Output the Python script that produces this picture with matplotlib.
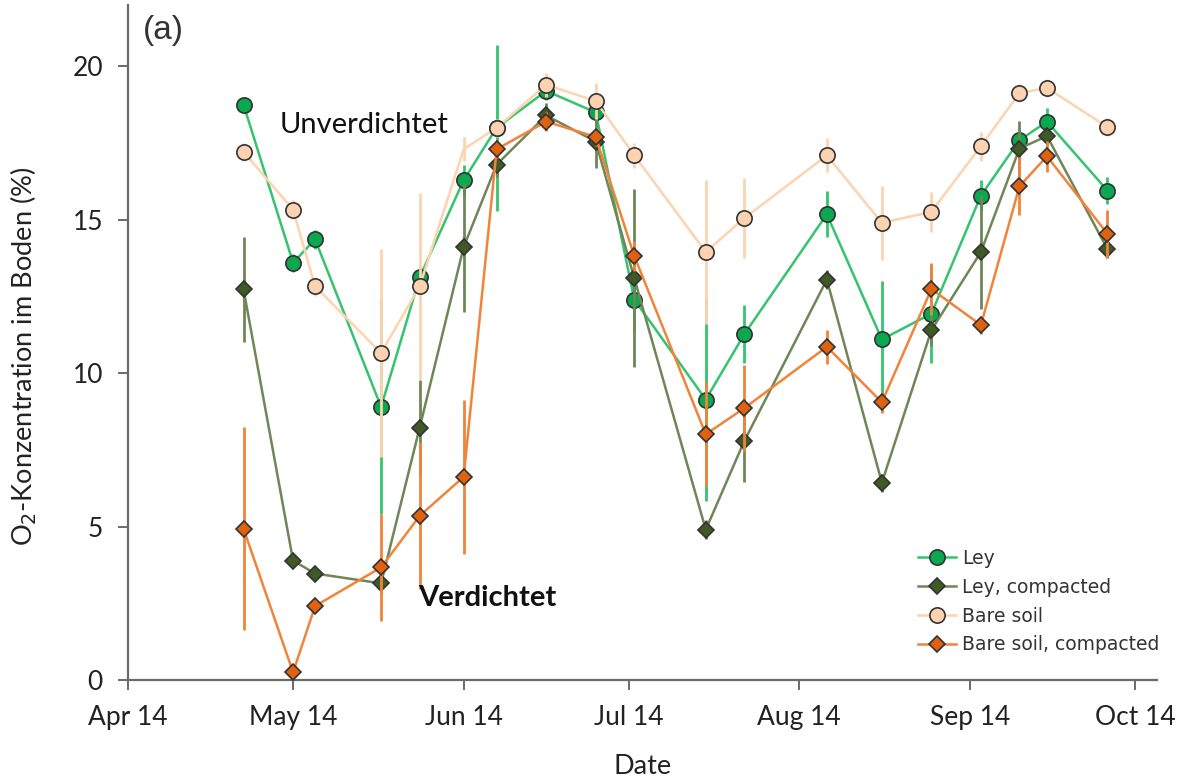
import matplotlib
matplotlib.use("Agg")
import matplotlib.pyplot as plt
import matplotlib.dates as mdates
import numpy as np

dates = np.array(["2014-04-22", "2014-05-01", "2014-05-05", "2014-05-17", "2014-05-24",
                  "2014-06-01", "2014-06-07", "2014-06-16", "2014-06-25", "2014-07-02",
                  "2014-07-15", "2014-07-22", "2014-08-06", "2014-08-16", "2014-08-25",
                  "2014-09-03", "2014-09-10", "2014-09-15", "2014-09-26"], dtype="datetime64[D]")

ley = [18.75, 13.6, 14.36, 8.9, 13.12, 16.29, 18.0, 19.2, 18.5, 12.4,
       9.14, 11.27, 15.18, 11.1, 11.94, 15.79, 17.59, 18.2, 15.95]
ley_err = [0.2, 0.3, 0.3, 3.5, 0.4, 0.5, 2.7, 0.3, 0.4, 1.0,
           3.3, 0.95, 0.75, 1.9, 1.6, 0.5, 0.4, 0.45, 0.45]

ley_comp = [12.73, 3.89, 3.47, 3.15, 8.22, 14.11, 16.8, 18.4, 17.55, 13.1,
            4.9, 7.79, 13.05, 6.43, 11.4, 13.95, 17.32, 17.73, 14.04]
ley_comp_err = [1.7, 0.2, 0.2, 0.3, 1.55, 2.1, 0.4, 0.4, 0.85, 2.9,
                0.3, 1.33, 0.3, 0.3, 0.5, 1.85, 0.9, 0.3, 0.3]

bare = [17.21, 15.33, 12.83, 10.66, 12.83, 17.3, 18.0, 19.4, 18.87, 17.1,
        13.95, 15.05, 17.1, 14.9, 15.26, 17.4, 19.13, 19.3, 18.02]
bare_err = [0.3, 0.3, 0.3, 3.4, 3.05, 0.4, 0.3, 0.4, 0.6, 0.4,
            2.35, 1.3, 0.55, 1.2, 0.65, 0.47, 0.3, 0.3, 0.3]

bare_comp = [4.93, 0.25, 2.41, 3.67, 5.35, 6.62, 17.3, 18.2, 17.7, 13.82,
             8.01, 8.86, 10.86, 9.05, 12.74, 11.57, 16.09, 17.07, 14.54]
bare_comp_err = [3.3, 0.2, 0.2, 1.75, 2.4, 2.5, 0.3, 0.3, 0.3, 0.5,
                 1.7, 1.4, 0.55, 0.35, 0.85, 0.3, 0.95, 0.5, 0.77]

labels = ["Ley", "Ley, compacted", "Bare soil", "Bare soil, compacted"]

fig = plt.figure(figsize=(11.84, 7.78), dpi=100)
ax = fig.add_axes([128/1184, 98/778, (1157-128)/1184, (680-5)/778])

series = [
    (ley, ley_err, "#34c46e", "#0aa84f", "o", 11, None),
    (ley_comp, ley_comp_err, "#6f8658", "#3f5a24", "D", 8, None),
    (bare, bare_err, "#fdd3b0", "#fcd2b0", "o", 11, [i for i in range(len(bare)) if i != 5]),
    (bare_comp, bare_comp_err, "#f0843a", "#e0620e", "D", 8, None),
]

for i, (vals, err, lc, mc, mk, ms, mev) in enumerate(series):
    z = 2 + i
    ax.errorbar(dates, vals, yerr=err, fmt="none", ecolor=lc, elinewidth=2.0,
                capsize=0, zorder=z)
    ax.plot(dates, vals, color=lc, lw=1.8, marker=mk, ms=ms, mfc=mc, mec="#333333",
            mew=1.2, markevery=mev, label=labels[i], zorder=z + 0.1)

ax.set_xlim(np.datetime64("2014-04-01"), np.datetime64("2014-10-05"))
ax.set_ylim(0, 22)
ax.set_yticks([0, 5, 10, 15, 20])
ax.xaxis.set_major_locator(mdates.MonthLocator())
ax.xaxis.set_major_formatter(mdates.DateFormatter("%b %y"))

for s in ["top", "right"]:
    ax.spines[s].set_visible(False)
for s in ["left", "bottom"]:
    ax.spines[s].set_color("#6a6a6a")
    ax.spines[s].set_linewidth(1.6)
ax.tick_params(axis="both", direction="out", length=7, width=1.4, color="#6a6a6a")
ax.tick_params(axis="y", labelsize=19, labelcolor="#222222", pad=11)
ax.tick_params(axis="x", labelsize=19, labelcolor="#222222", pad=11)
for t in ax.get_yticklabels() + ax.get_xticklabels():
    t.set_family("Lato")

ax.set_xlabel("Date", fontsize=19.5, family="Lato", color="#222222", labelpad=17)
ax.set_ylabel("O$_2$-Konzentration im Boden (%)", fontsize=19.5, family="Lato",
              color="#222222")
ax.yaxis.set_label_coords(-0.0865, 0.48)

ax.text(0.0146, 0.9615, "(a)", transform=ax.transAxes, fontsize=24,
        family="Liberation Sans", color="#333333", va="center", ha="left")
ax.text(0.1477, 0.822, "Unverdichtet", transform=ax.transAxes, fontsize=21,
        family="Lato", color="#111111", va="center", ha="left", zorder=10)
ax.text(0.2818, 0.1215, "Verdichtet", transform=ax.transAxes, fontsize=21,
        family="Lato", weight="bold", color="#111111", va="center", ha="left", zorder=10)

leg = ax.legend(loc="upper left", bbox_to_anchor=(918/1184, 1 - 549/778),
                bbox_transform=fig.transFigure, frameon=False,
                prop={"family": "DejaVu Sans", "size": 13.5},
                handlelength=2.0, handletextpad=0.35, labelspacing=0.52,
                borderaxespad=0, borderpad=0)
for t in leg.get_texts():
    t.set_color("#333333")

fig.savefig("out.png", dpi=100)
